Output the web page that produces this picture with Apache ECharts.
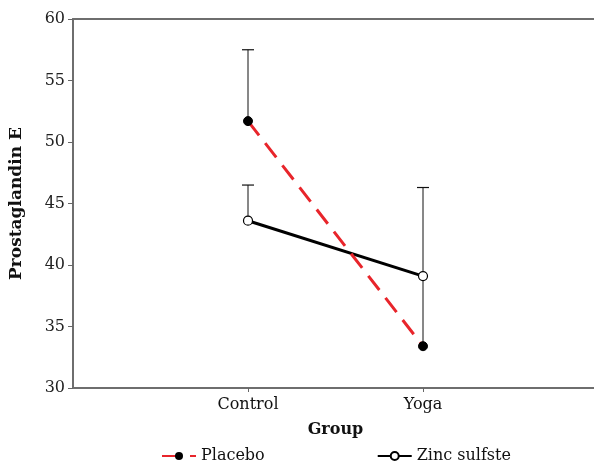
<!DOCTYPE html>
<html><head><meta charset="utf-8">
<script src="https://cdn.jsdelivr.net/npm/echarts@6/dist/echarts.min.js"></script>
<style>html,body{margin:0;padding:0;background:#fff}#c{width:594px;height:470px}</style>
</head><body><div id="c"></div>
<script>
const categories = ['', 'Control', 'Yoga', ''];
const placebo = [null, 51.7, 33.4, null];
const zinc = [null, 43.6, 39.1, null];
const placeboUpper = [null, 57.5, 46.3, null];
const zincUpper = [null, 46.5, null, null];
const yTicks = [30, 35, 40, 45, 50, 55, 60];

const chart = echarts.init(document.getElementById('c'));
function errBar(values, upper) {
  const d = [];
  values.forEach((v, i) => { if (v != null && upper[i] != null) d.push([i, v, upper[i]]); });
  return d;
}
const renderErr = (params, api) => {
  const x = api.value(0);
  const lo = api.coord([x, api.value(1)]);
  const hi = api.coord([x, api.value(2)]);
  const half = 6;
  return {
    type: 'group',
    children: [
      { type: 'line', shape: { x1: lo[0], y1: lo[1], x2: hi[0], y2: hi[1] }, style: { stroke: '#111', lineWidth: 1 } },
      { type: 'line', shape: { x1: hi[0] - half, y1: hi[1], x2: hi[0] + half, y2: hi[1] }, style: { stroke: '#111', lineWidth: 1.2 } }
    ]
  };
};
const labelFont = 'DejaVu Serif';
chart.setOption({
  animation: false,
  grid: { left: 73, width: 525, top: 19, bottom: 82, outerBoundsMode: 'none', containLabel: false },
  legend: {
    bottom: 1, left: 156, itemGap: 112, itemWidth: 34, itemHeight: 10,
    textStyle: { fontFamily: labelFont, fontSize: 16, color: '#111' },
    data: ['Placebo', 'Zinc sulfste']
  },
  xAxis: [{
    type: 'category', data: categories, boundaryGap: false,
    name: 'Group', nameLocation: 'middle', nameGap: 34,
    nameTextStyle: { fontFamily: 'DejaVu Serif', fontWeight: 'bold', fontSize: 16, color: '#111' },
    axisLine: { lineStyle: { color: '#6e6e6e', width: 2 } },
    axisTick: { show: true, length: 4, lineStyle: { color: '#666' }, interval: (i, v) => v !== '' },
    axisLabel: { fontFamily: labelFont, fontSize: 16, color: '#111', margin: 9, interval: 0 },
    splitLine: { show: false }
  }, {
    type: 'category', data: categories, position: 'top', boundaryGap: false,
    axisLine: { lineStyle: { color: '#6e6e6e', width: 2 } },
    axisTick: { show: false }, axisLabel: { show: false }
  }],
  yAxis: {
    type: 'value', min: 30, max: 60, interval: 5,
    name: 'Prostaglandin E', nameLocation: 'middle', nameGap: 48,
    nameTextStyle: { fontFamily: 'DejaVu Serif', fontWeight: 'bold', fontSize: 17, color: '#111' },
    axisLine: { show: true, lineStyle: { color: '#6e6e6e', width: 2 } },
    axisTick: { show: true, length: 5, lineStyle: { color: '#666' } },
    axisLabel: { fontFamily: labelFont, fontSize: 16, color: '#222', margin: 8,
      formatter: v => yTicks.includes(v) ? String(v) : '' },
    splitLine: { show: false }
  },
  series: [
    { name: 'Placebo err', type: 'custom', renderItem: renderErr, data: errBar(placebo, placeboUpper), z: 1, silent: true },
    { name: 'Zinc err', type: 'custom', renderItem: renderErr, data: errBar(zinc, zincUpper), z: 1, silent: true },
    { name: 'Zinc sulfste', type: 'line', data: zinc, symbol: 'circle', symbolSize: 9,
      lineStyle: { color: '#000', width: 3 },
      itemStyle: { color: '#fff', borderColor: '#000', borderWidth: 1.2 }, z: 3 },
    { name: 'Placebo', type: 'line', data: placebo, symbol: 'circle', symbolSize: 9,
      lineStyle: { color: '#e8252b', width: 3, type: [18, 10] },
      itemStyle: { color: '#000', borderColor: '#000' }, z: 4 }
  ]
});
</script></body></html>
